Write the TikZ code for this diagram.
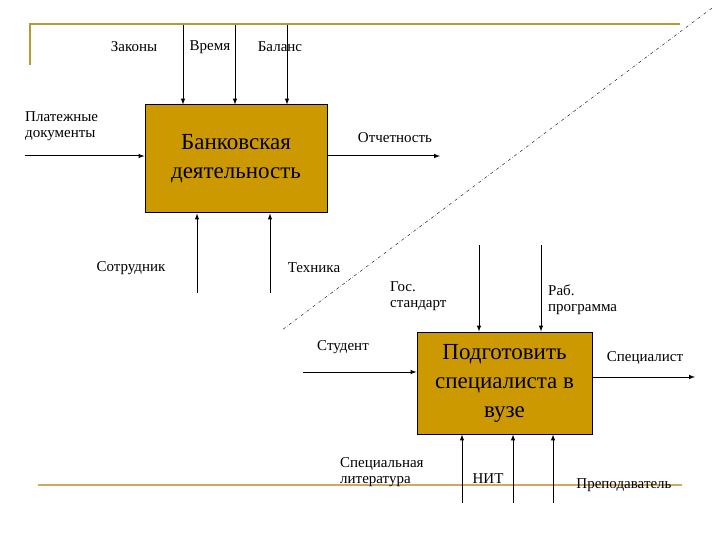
\documentclass[tikz,border=0pt]{standalone}
\usepackage{fontspec}
\setmainfont{Liberation Serif}
\begin{document}
\begin{tikzpicture}[x=1pt,y=-1pt,
  box/.style={draw=black,fill=boxgold,line width=1pt,inner sep=0pt},
  arr/.style={-latex,line width=1pt},
  lbl/.style={font=\fontsize{15}{16}\selectfont,inner sep=0pt},
  lbll/.style={lbl,align=left,anchor=west},
  big/.style={font=\fontsize{23}{29}\selectfont,align=center}]
\definecolor{boxgold}{HTML}{CC9900}
\definecolor{topline}{HTML}{B59A3A}
\definecolor{botline}{HTML}{D2A860}
\useasboundingbox (0,0) rectangle (720,540);
\draw[topline,line width=1.5pt] (30,65) -- (30,24) -- (680,24);
\draw[botline,line width=1.5pt] (38,485) -- (682,485);
\draw[dash dot,line width=0.4pt] (712,8) -- (282,330);
% box 1
\node[box,minimum width=182,minimum height=108] (b1) at (236,159) {};
\node[big] (t1) at (b1.center) {Банковская\\деятельность};
\coordinate (z) at (183,25); \coordinate (v) at (235,25); \coordinate (bl) at (287,25);
\draw[arr] (z) -- (z|-b1.north);
\draw[arr] (v) -- (v|-b1.north);
\draw[arr] (bl) -- (bl|-b1.north);
\coordinate (pl) at (25,156); \draw[arr] (pl) -- (pl-|b1.west);
\coordinate (ot) at (440,156); \draw[arr] (ot-|b1.east) -- (ot);
\coordinate (so) at (197,293); \draw[arr] (so) -- (so|-b1.south);
\coordinate (te) at (270,293); \draw[arr] (te) -- (te|-b1.south);
\node[lbl] (lz) at (134,47) {Законы};
\node[lbl] (lv) at (210,47) {Время};
\node[lbl] (lb) at (280,47) {Баланс};
\node[lbll] (lp) at (25,126) {Платежные\\документы};
\node[lbl] (lo) at (395,138) {Отчетность};
\node[lbl] (ls) at (131,268) {Сотрудник};
\node[lbl] (lt) at (314,268) {Техника};
% box 2
\node[box,minimum width=175,minimum height=102] (b2) at (504.5,383) {};
\node[big,font=\fontsize{23}{29}\selectfont] (t2) at (b2.center) {Подготовить\\специалиста в\\вузе};
\coordinate (g) at (479,245); \draw[arr] (g) -- (g|-b2.north);
\coordinate (r) at (541,245); \draw[arr] (r) -- (r|-b2.north);
\coordinate (st) at (303,372); \draw[arr] (st) -- (st-|b2.west);
\coordinate (sp) at (695,377); \draw[arr] (sp-|b2.east) -- (sp);
\coordinate (sl) at (462,503); \draw[arr] (sl) -- (sl|-b2.south);
\coordinate (n) at (513,503); \draw[arr] (n) -- (n|-b2.south);
\coordinate (pr) at (553,503); \draw[arr] (pr) -- (pr|-b2.south);
\node[lbll] (lg) at (390,296) {Гос.\\стандарт};
\node[lbll] (lr) at (548,300) {Раб.\\программа};
\node[lbl] (lst) at (343,347) {Студент};
\node[lbl] (lsp) at (645,358) {Специалист};
\node[lbll] (lsl) at (340,472) {Специальная\\литература};
\node[lbl] (ln) at (488,479) {НИТ};
\node[lbl] (lpr) at (624,485) {Преподаватель};
\end{tikzpicture}
\end{document}
